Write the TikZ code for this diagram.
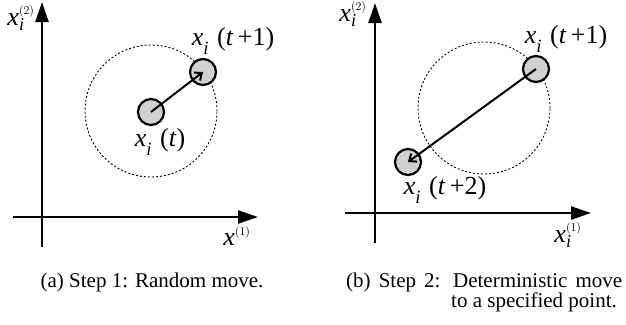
\documentclass[tikz,border=0pt]{standalone}
\usepackage{fontspec}
\setmainfont{Liberation Serif}
\usetikzlibrary{arrows.meta,positioning}
\newcommand{\xpos}[1]{\textit{x}\raisebox{-.32em}{\scalebox{.72}{\textit{i}}}\,\,(#1)}
\tikzset{
  axisline/.style={-{Triangle[length=20pt,width=13pt]},line width=2.6pt},
  agent/.style={circle,draw,line width=2.2pt,fill=black!18,minimum size=26pt,inner sep=0pt},
  reach/.style={circle,draw,dash pattern=on 2pt off 2pt,line width=0.9pt,minimum size=132pt,inner sep=0pt},
  moveline/.style={-{Straight Barb[length=6pt,width=10pt]},line width=2pt},
  ptlabel/.style={font=\fontsize{26}{30}\selectfont,inner sep=0pt},
  axlabel/.style={font=\fontsize{26}{30}\selectfont,inner sep=0pt},
  captext/.style={font=\fontsize{21}{23}\selectfont,inner sep=0pt}
}
\begin{document}
\begin{tikzpicture}[x=1pt,y=-1pt]
\useasboundingbox (0,0) rectangle (626,324);
% (a) random move
\coordinate (ya0) at (42,247);
\coordinate (ya1) at (42,2);
\coordinate (xa0) at (13,217);
\coordinate (xa1) at (258,217);
\draw[axisline] (ya0) -- (ya1);
\draw[axisline] (xa0) -- (xa1);
\node[axlabel] (ylaba) at (21,18) {$\mathit{x}_{\mathit{i}}^{\scriptscriptstyle(2)}$};
\node[axlabel] (xlaba) at (237,236) {$\mathit{x}^{\scriptscriptstyle(1)}$};
\node[reach] (zonea) at (151,111) {};
\node[agent] (pa0) at (151,112) {};
\node[agent] (pa1) at (203,72) {};
\draw[moveline] (pa0.center) -- (pa1.center);
\node[ptlabel] (la0) at (160,142) {\xpos{\textit{t}}};
\node[ptlabel] (la1) at (233,41) {\xpos{\textit{t}\,+1}};
\node[captext,anchor=base] (capa) at (152,287) {(a) Step 1: Random move.};
% (b) deterministic move
\coordinate (yb0) at (375,243);
\coordinate (yb1) at (375,3);
\coordinate (xb0) at (345,213);
\coordinate (xb1) at (591,213);
\draw[axisline] (yb0) -- (yb1);
\draw[axisline] (xb0) -- (xb1);
\node[axlabel] (ylabb) at (353,14) {$\mathit{x}_{\mathit{i}}^{\scriptscriptstyle(2)}$};
\node[axlabel] (xlabb) at (568,235) {$\mathit{x}_{\mathit{i}}^{\scriptscriptstyle(1)}$};
\node[reach] (zoneb) at (484,108) {};
\node[agent] (pb1) at (536,69) {};
\node[agent] (pb2) at (408,162) {};
\draw[moveline] (pb1.center) -- (pb2.center);
\node[ptlabel] (lb1) at (566,39) {\xpos{\textit{t}\,+1}};
\node[ptlabel] (lb2) at (445,190) {\xpos{\textit{t}\,+2}};
\node[captext,anchor=base west] (capb) at (346,287) {\makebox[276pt][s]{(b) Step 2: Deterministic move}};
\node[captext,anchor=base west] (capb2) at (451,307) {to a specified point.};
\end{tikzpicture}
\end{document}
